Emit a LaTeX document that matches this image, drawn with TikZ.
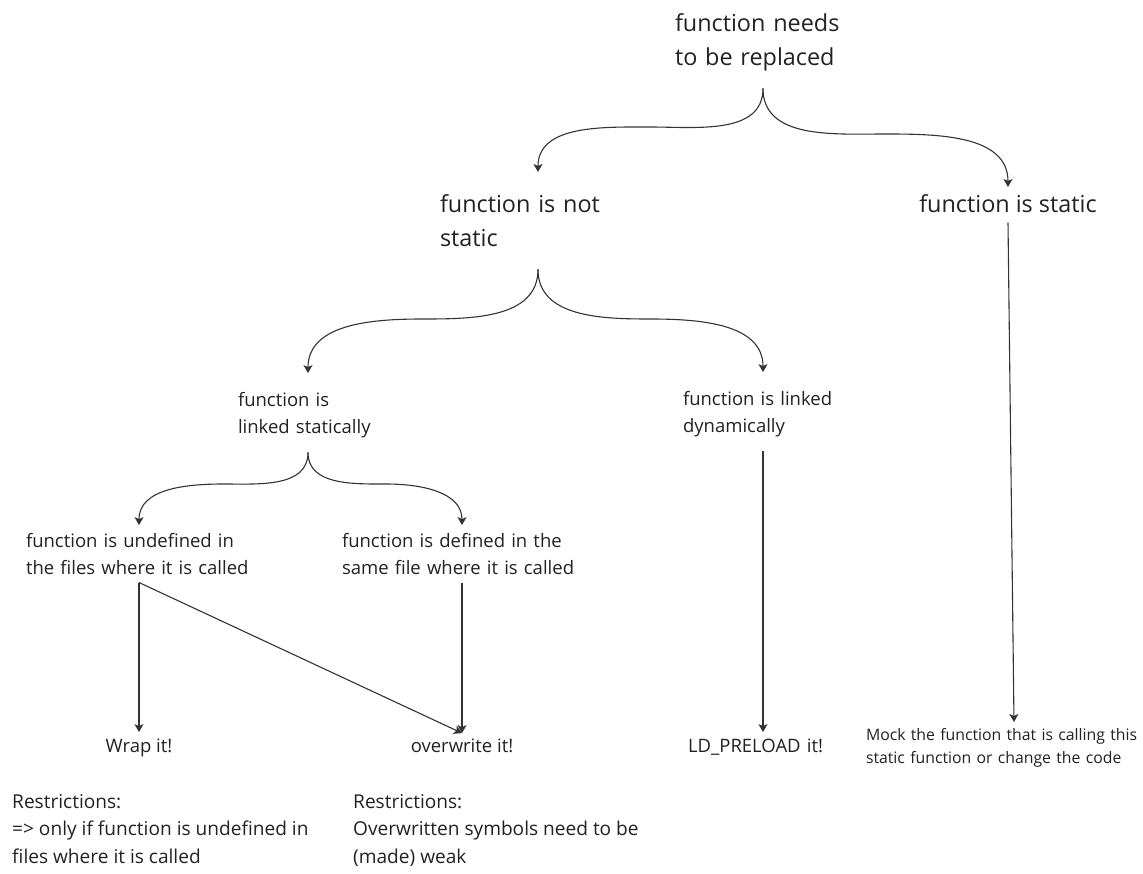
\documentclass[tikz,border=0pt]{standalone}
\usepackage{fontspec}
\setmainfont{Open Sans}
\usetikzlibrary{arrows.meta}
\definecolor{ink}{HTML}{222222}
\definecolor{linegray}{HTML}{333333}

\begin{document}
\begin{tikzpicture}[x=1pt,y=-1pt,
  every node/.style={inner sep=0pt,text=ink,
    execute at begin node=\strut,execute at end node=\strut},
  bigtext/.style={font=\fontsize{23.4}{34}\selectfont,align=left},
  midtext/.style={font=\fontsize{18.5}{27}\selectfont,align=left},
  notetext/.style={font=\fontsize{19.1}{27.5}\selectfont,align=left},
  smalltext/.style={font=\fontsize{15.8}{23}\selectfont,align=left},
  link/.style={draw=linegray,line width=1.1pt,
    -{Stealth[length=8pt,width=9pt,inset=2pt]}}]

  \fill[white] (0,0) rectangle (1143,874);
  \useasboundingbox (0,0) rectangle (1143,874);

  \node[bigtext,text width=176pt,anchor=north] (replace) at (763,7.2) {function needs\\to be replaced};

  \node[bigtext,text width=196pt,anchor=north] (notstatic) at (538,188.2) {function is not\\static};
  \node[bigtext,anchor=north] (static) at (1008,188.2) {function is static};

  \node[midtext,text width=140pt,anchor=north] (linkstat) at (308,387.1) {function is\\linked statically};
  \node[midtext,text width=160pt,anchor=north] (linkdyn) at (763,386.1) {function is linked\\dynamically};

  \node[midtext,text width=226pt,anchor=north] (undef) at (139,528.1) {function is undefined in\\the files where it is called};
  \node[midtext,text width=240pt,anchor=north] (defined) at (462,528.1) {function is defined in the\\same file where it is called};

  % what to do
  \node[midtext,anchor=north] (wrap) at (139,733.1) {Wrap it!};
  \node[midtext,anchor=north] (overwrite) at (462,733.1) {overwrite it!};
  \node[midtext,text width=150pt,anchor=north] (preload) at (763,733.1) {LD\_PRELOAD it!};
  \node[smalltext,text width=296pt,anchor=north] (mock) at (1014,724) {Mock the function that is calling this\\static function or change the code};

  \node[notetext,anchor=north west] (wrapnote) at (12,794) {Restrictions:\\=> only if function is undefined in\\files where it is called};
  \node[notetext,anchor=north west] (overnote) at (353,794) {Restrictions:\\Overwritten symbols need to be\\(made) weak};

  % forks
  \draw[link] ([yshift=-12.8pt]replace.south) to[out=-90,in=0] (650,127) to[out=180,in=90] ([yshift=16.2pt]notstatic.north);
  \draw[link] ([yshift=-12.8pt]replace.south) to[out=-90,in=180] (885,134) to[out=0,in=90] ([yshift=1.2pt]static.north);

  \draw[link] ([yshift=-12.8pt]notstatic.south) to[out=-90,in=0] (423,319) to[out=180,in=90] ([yshift=14pt]linkstat.north);
  \draw[link] ([yshift=-12.8pt]notstatic.south) to[out=-90,in=180] (650,319) to[out=0,in=90] ([yshift=14pt]linkdyn.north);

  \draw[link] ([yshift=-11pt]linkstat.south) to[out=-90,in=0] (224,484) to[out=180,in=90] ([yshift=3pt]undef.north);
  \draw[link] ([yshift=-11pt]linkstat.south) to[out=-90,in=180] (386,484) to[out=0,in=90] ([yshift=3pt]defined.north);

  % straight ones
  \draw[link] (static.south) -- ([yshift=2pt]mock.north);
  \draw[link] ([yshift=-10pt]linkdyn.south) -- ([yshift=1pt]preload.north);
  \draw[link] (undef.south) -- ([yshift=1pt]wrap.north);
  \draw[link] (defined.south) -- (overwrite.north);
  \draw[link] (undef.south) -- (overwrite.north);
\end{tikzpicture}
\end{document}
